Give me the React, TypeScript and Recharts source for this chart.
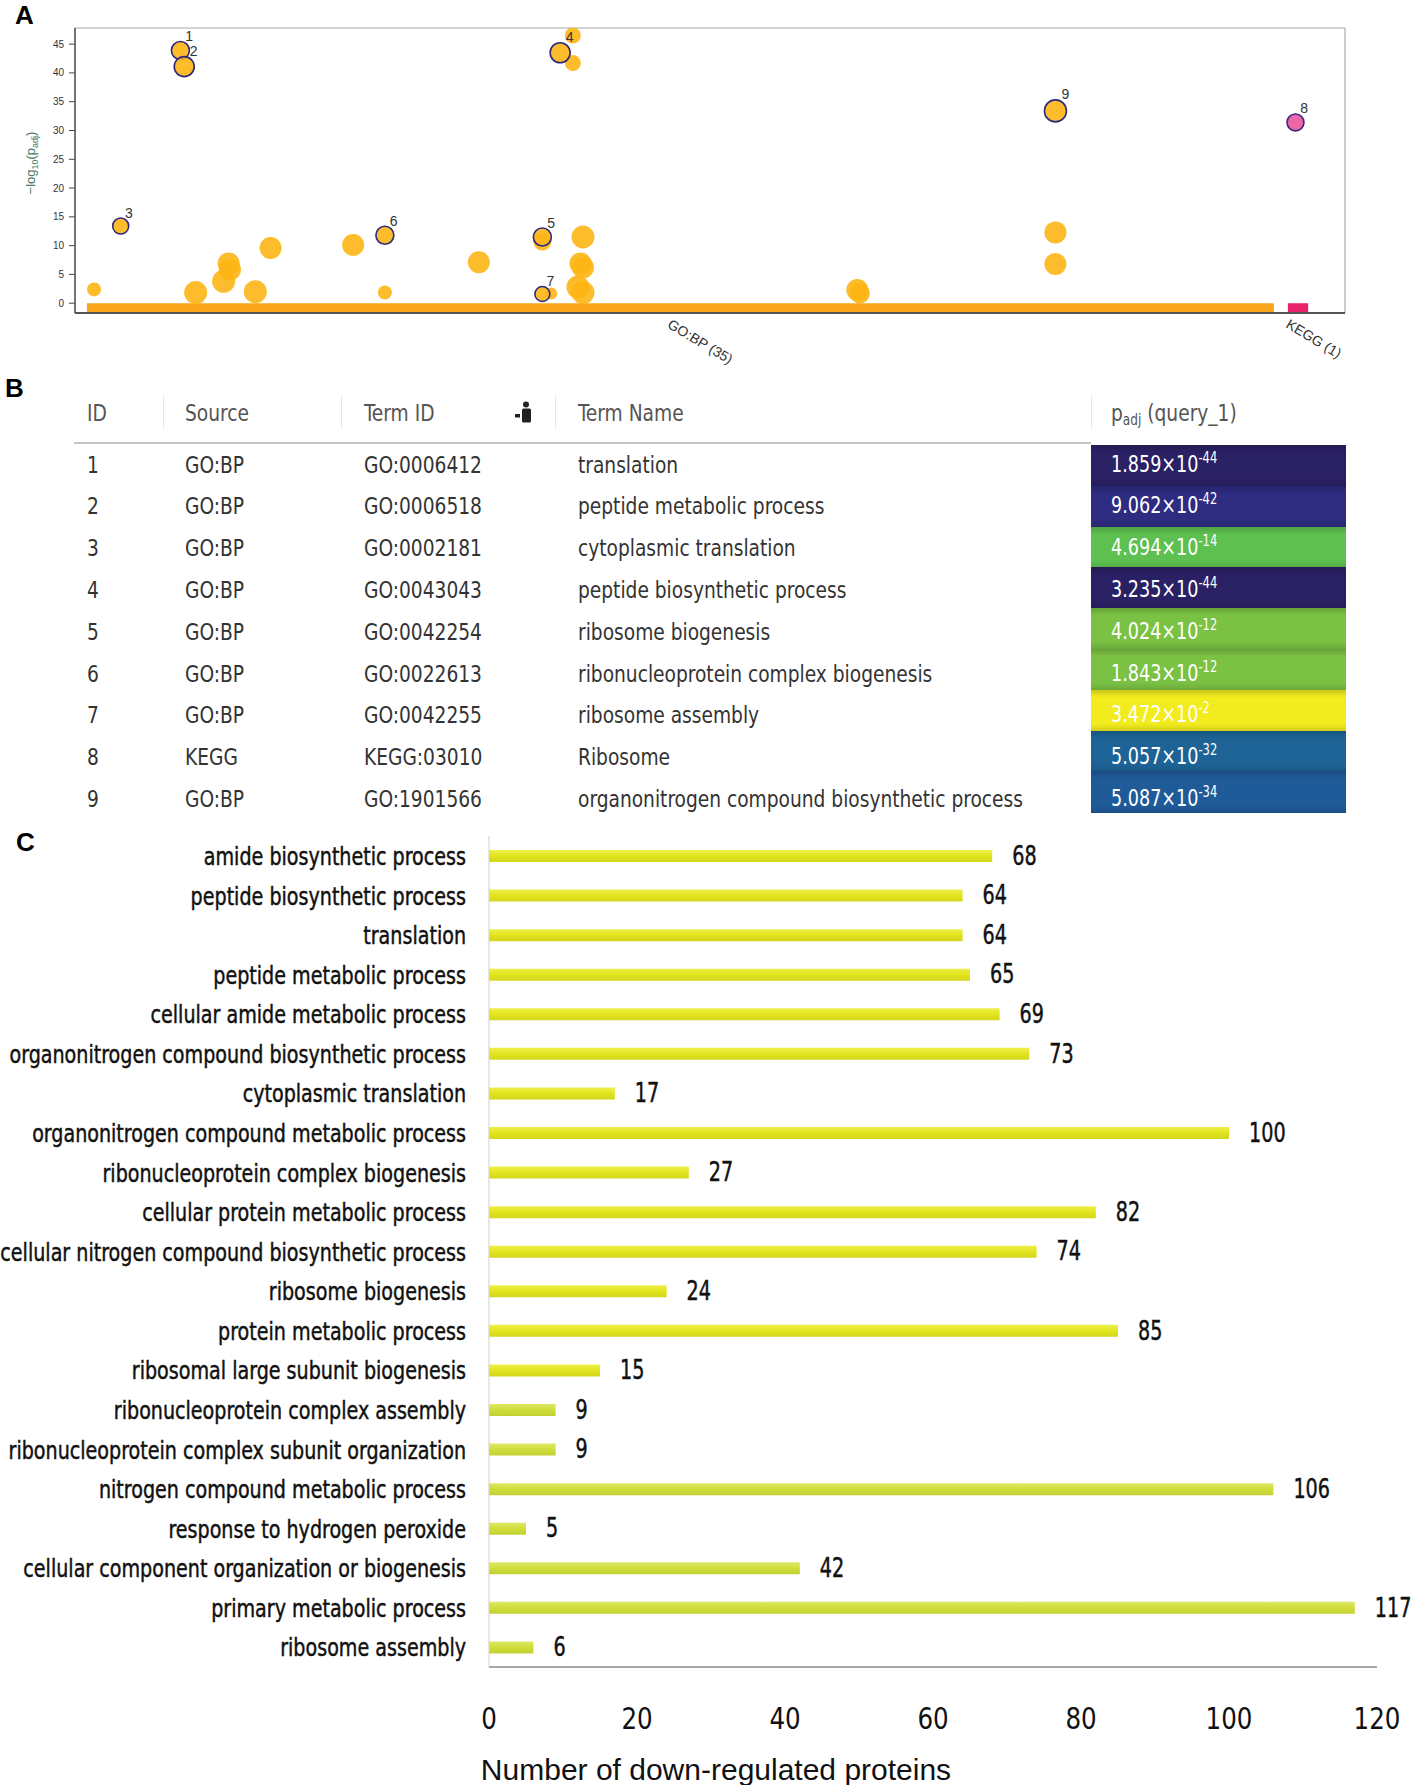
import React from "react";
import {
  ScatterChart,
  Scatter,
  XAxis,
  YAxis,
  ZAxis,
  ReferenceArea,
  ReferenceLine,
  BarChart,
  Bar,
  Cell,
  LabelList,
} from "recharts";

const NARROW = "'Liberation Sans Narrow', 'DejaVu Sans Condensed', 'Liberation Sans', sans-serif";
const ARIAL = "'Liberation Sans', Arial, sans-serif";

// ---- panel A: g:Profiler manhattan plot ----
const otherTerms = [
  { x: 15, y: 2.4, size: 49 },
  { x: 95, y: 1.85, size: 132 },
  { x: 117, y: 3.8, size: 132 },
  { x: 121, y: 6.9, size: 121 },
  { x: 122, y: 5.8, size: 121 },
  { x: 142, y: 2.0, size: 132 },
  { x: 154, y: 9.6, size: 121 },
  { x: 219, y: 10.1, size: 121 },
  { x: 244, y: 1.85, size: 49 },
  { x: 318, y: 7.1, size: 121 },
  { x: 368, y: 10.7, size: 81 },
  { x: 375, y: 1.7, size: 36 },
  { x: 392, y: 46.5, size: 64 },
  { x: 392, y: 41.7, size: 64 },
  { x: 400, y: 11.5, size: 132 },
  { x: 398, y: 6.9, size: 121 },
  { x: 400, y: 6.2, size: 121 },
  { x: 396, y: 2.8, size: 132 },
  { x: 400, y: 1.85, size: 132 },
  { x: 616, y: 2.3, size: 121 },
  { x: 618, y: 1.7, size: 100 },
  { x: 772, y: 12.3, size: 121 },
  { x: 772, y: 6.8, size: 121 },
];

const highlightTerms = [
  { id: 3, x: 36, y: 13.4, size: 64 },
  { id: 1, x: 83, y: 43.9, size: 81 },
  { id: 2, x: 86, y: 41.1, size: 100 },
  { id: 6, x: 244, y: 11.8, size: 81 },
  { id: 5, x: 368, y: 11.5, size: 81 },
  { id: 7, x: 368, y: 1.6, size: 56 },
  { id: 4, x: 382, y: 43.5, size: 100 },
  { id: 9, x: 772, y: 33.4, size: 121 },
];

const keggTerms = [{ id: 8, x: 961, y: 31.4, size: 72 }];

const sourceTicks = [470, 957];
const sourceLabels = ["GO:BP (35)", "KEGG (1)"];
const goBpSpan = [9.4, 944];
const keggSpan = [955, 971];
const yTicksA = [0, 5, 10, 15, 20, 25, 30, 35, 40, 45];

// ---- panel B: table ----
const termIndex = [1, 2, 3, 4, 5, 6, 7, 8, 9];
const termSources = ["GO:BP", "GO:BP", "GO:BP", "GO:BP", "GO:BP", "GO:BP", "GO:BP", "KEGG", "GO:BP"];
const termIds = [
  "GO:0006412",
  "GO:0006518",
  "GO:0002181",
  "GO:0043043",
  "GO:0042254",
  "GO:0022613",
  "GO:0042255",
  "KEGG:03010",
  "GO:1901566",
];
const termNames = [
  "translation",
  "peptide metabolic process",
  "cytoplasmic translation",
  "peptide biosynthetic process",
  "ribosome biogenesis",
  "ribonucleoprotein complex biogenesis",
  "ribosome assembly",
  "Ribosome",
  "organonitrogen compound biosynthetic process",
];
const padjMantissa = ["1.859", "9.062", "4.694", "3.235", "4.024", "1.843", "3.472", "5.057", "5.087"];
const padjExponent = [-44, -42, -14, -44, -12, -12, -2, -32, -34];

// ---- panel C: bar chart ----
const categories = [
  "amide biosynthetic process",
  "peptide biosynthetic process",
  "translation",
  "peptide metabolic process",
  "cellular amide metabolic process",
  "organonitrogen compound biosynthetic process",
  "cytoplasmic translation",
  "organonitrogen compound metabolic process",
  "ribonucleoprotein complex biogenesis",
  "cellular protein metabolic process",
  "cellular nitrogen compound biosynthetic process",
  "ribosome biogenesis",
  "protein metabolic process",
  "ribosomal large subunit biogenesis",
  "ribonucleoprotein complex assembly",
  "ribonucleoprotein complex subunit organization",
  "nitrogen compound metabolic process",
  "response to hydrogen peroxide",
  "cellular component organization or biogenesis",
  "primary metabolic process",
  "ribosome assembly",
];
const downCounts = [68, 64, 64, 65, 69, 73, 17, 100, 27, 82, 74, 24, 85, 15, 9, 9, 106, 5, 42, 117, 6];
const xTicksC = [0, 20, 40, 60, 80, 100, 120];

const barData = categories.map((name, i) => ({ name, value: downCounts[i] }));

function padjColor(exp: number) {
  if (exp <= -43) return "#2a2064";
  if (exp <= -40) return "#2e2c80";
  if (exp <= -33) return "#1f5a99";
  if (exp <= -25) return "#1d6396";
  if (exp <= -13) return "#5dc050";
  if (exp <= -5) return "#7bc143";
  return "#f2eb1e";
}

function Bubble(props: any) {
  const { cx, cy, payload, fill, stroke, labelled } = props;
  if (cx == null || cy == null) return null;
  const r = props.width ? props.width / 2 : Math.sqrt((props.size || 64) / Math.PI);
  return (
    <g>
      <circle
        cx={cx}
        cy={cy}
        r={r}
        fill={fill}
        fillOpacity={0.9}
        stroke={stroke || "none"}
        strokeWidth={stroke ? 1.6 : 0}
      />
      {labelled && (
        <text x={cx + r * 0.55} y={cy - r - 0.5} fontSize={14} fontFamily={ARIAL} fill="#333">
          {payload.id}
        </text>
      )}
    </g>
  );
}

function SourceTick(props: any) {
  const { x, payload, index } = props;
  const y = 318;
  return (
    <text
      x={x}
      y={y}
      transform={`rotate(31 ${x} ${y})`}
      fontSize={14}
      fontFamily={ARIAL}
      fill="#333"
      dominantBaseline="hanging"
    >
      {sourceLabels[index] ?? payload.value}
    </text>
  );
}

function YLabelA(props: any) {
  const vb = props.viewBox || { x: 0, y: 28 };
  const x = vb.x + 35;
  const y = vb.y + 135;
  return (
    <text
      x={x}
      y={y}
      transform={`rotate(-90 ${x} ${y})`}
      textAnchor="middle"
      fontSize={13}
      fontFamily={ARIAL}
      fill="#4a7a66"
    >
      <tspan>−log</tspan>
      <tspan fontSize={9} dy={3}>10</tspan>
      <tspan dy={-3}>(p</tspan>
      <tspan fontSize={9} dy={3}>adj</tspan>
      <tspan dy={-3}>)</tspan>
    </text>
  );
}

function PanelA() {
  return (
    <ScatterChart width={1417} height={385} margin={{ top: 28, right: 72, bottom: 25, left: 0 }}>
      <XAxis
        type="number"
        dataKey="x"
        domain={[0, 1000]}
        ticks={sourceTicks}
        tick={<SourceTick />}
        tickLine={false}
        axisLine={{ stroke: "#555", strokeWidth: 2 }}
        height={47}
        allowDataOverflow
      />
      <YAxis
        type="number"
        dataKey="y"
        domain={[-1.7, 47.8]}
        ticks={yTicksA}
        width={75}
        tickSize={6}
        tickMargin={5}
        tick={{ fontSize: 10, fontFamily: ARIAL, fill: "#333" }}
        tickLine={{ stroke: "#444" }}
        axisLine={{ stroke: "#444", strokeWidth: 1.5 }}
        allowDataOverflow
        label={<YLabelA />}
      />
      <ZAxis type="number" dataKey="size" domain={[0, 200]} range={[0, 200 * Math.PI]} />
      <ReferenceLine y={47.8} stroke="#a8a8a8" strokeWidth={1.2} />
      <ReferenceLine x={1000} stroke="#a8a8a8" strokeWidth={1.2} />
      <ReferenceArea
        x1={goBpSpan[0]}
        x2={goBpSpan[1]}
        y1={-1.7}
        y2={0}
        fill="#f9a51b"
        fillOpacity={1}
        stroke="none"
      />
      <ReferenceArea
        x1={keggSpan[0]}
        x2={keggSpan[1]}
        y1={-1.7}
        y2={0}
        fill="#e8226a"
        fillOpacity={1}
        stroke="none"
      />
      <Scatter
        data={otherTerms}
        isAnimationActive={false}
        shape={(p: any) => <Bubble {...p} fill="#fdb514" />}
      />
      <Scatter
        data={highlightTerms}
        isAnimationActive={false}
        shape={(p: any) => <Bubble {...p} fill="#fdb514" stroke="#2e2a80" labelled />}
      />
      <Scatter
        data={keggTerms}
        isAnimationActive={false}
        shape={(p: any) => <Bubble {...p} fill="#ea579a" stroke="#3a2a80" labelled />}
      />
    </ScatterChart>
  );
}

function SortIcon() {
  return (
    <svg width={20} height={24} style={{ position: "absolute", left: 514, top: 401 }}>
      <circle cx={12} cy={3.5} r={3} fill="#222" />
      <rect x={8} y={7.5} width={9} height={14} rx={1.5} fill="#222" />
      <rect x={1} y={13} width={5} height={3.5} fill="#222" />
    </svg>
  );
}

function Squeeze({ children, k = 0.9 }: { children: React.ReactNode; k?: number }) {
  return (
    <span style={{ display: "inline-block", transform: `scaleX(${k})`, transformOrigin: "left center" }}>
      {children}
    </span>
  );
}

function PanelB() {
  const textTop = 444.6;
  const textH = 41.8;
  const cellTop = 445;
  const cellH = 40.8;
  const cell = (left: number, top: number, h: number, content: React.ReactNode, color = "#333", k = 0.9) => (
    <div
      style={{
        position: "absolute",
        left,
        top,
        height: h,
        lineHeight: `${h}px`,
        fontSize: 23,
        fontFamily: NARROW,
        color,
        whiteSpace: "nowrap",
      }}
    >
      <Squeeze k={k}>{content}</Squeeze>
    </div>
  );
  return (
    <>
      {cell(87, 396, 34, "ID", "#555")}
      {cell(185, 396, 34, "Source", "#555")}
      {cell(364, 396, 34, "Term ID", "#555")}
      {cell(578, 396, 34, "Term Name", "#555")}
      {cell(
        1111,
        396,
        34,
        <span>
          p<sub style={{ fontSize: 15, verticalAlign: "-4px", lineHeight: 0 }}>adj</sub> (query_1)
        </span>,
        "#555"
      )}
      <SortIcon />
      {[163, 341, 555, 1091].map((x) => (
        <div
          key={x}
          style={{ position: "absolute", left: x, top: 395, width: 1, height: 34, background: "#e6e6e6" }}
        />
      ))}
      <div style={{ position: "absolute", left: 74, top: 442, width: 1017, height: 2, background: "#c4c4c4" }} />
      {termIndex.map((id, i) => {
        const base = padjColor(padjExponent[i]);
        return (
          <div
            key={`bg${id}`}
            style={{
              position: "absolute",
              left: 1091,
              top: cellTop + i * cellH,
              width: 255,
              height: cellH + 0.5,
              background: `linear-gradient(to bottom, rgba(0,0,0,0.16) 0%, rgba(0,0,0,0) 18%, rgba(0,0,0,0) 82%, rgba(0,0,0,0.12) 100%), ${base}`,
            }}
          />
        );
      })}
      {termIndex.map((id, i) => {
        const top = textTop + i * textH;
        return (
          <React.Fragment key={id}>
            {cell(87, top, textH, id)}
            {cell(185, top, textH, termSources[i])}
            {cell(364, top, textH, termIds[i])}
            {cell(578, top, textH, termNames[i])}
            {cell(
              1111,
              top - 1,
              textH,
              <span>
                {padjMantissa[i]}×10
                <sup style={{ fontSize: 15, verticalAlign: "9px", lineHeight: 0 }}>{padjExponent[i]}</sup>
              </span>,
              "#ffffff",
              0.85
            )}
          </React.Fragment>
        );
      })}
    </>
  );
}

function CatTick(props: any) {
  const { x, y, payload } = props;
  return (
    <text
      transform={`translate(${x},${y}) scale(0.85,1)`}
      textAnchor="end"
      dominantBaseline="central"
      fontSize={25}
      fontFamily={NARROW}
      fill="#111"
      stroke="#111"
      strokeWidth={0.45}
    >
      {payload.value}
    </text>
  );
}

function CountTick(props: any) {
  const { x, y, payload } = props;
  return (
    <text
      transform={`translate(${x},${y + 43}) scale(0.88,1)`}
      textAnchor="middle"
      dominantBaseline="central"
      fontSize={31}
      fontFamily={NARROW}
      fill="#111"
    >
      {payload.value}
    </text>
  );
}

function XTitleC(props: any) {
  const vb = props.viewBox || { x: 489, y: 1667 };
  return (
    <text x={vb.x + 227} y={vb.y + 113} textAnchor="middle" fontSize={30} fontFamily={ARIAL} fill="#111">
      Number of down-regulated proteins
    </text>
  );
}

function PanelC() {
  return (
    <BarChart
      width={1417}
      height={985}
      layout="vertical"
      data={barData}
      margin={{ top: 36, right: 40, bottom: 0, left: 0 }}
    >
      <defs>
        <linearGradient id="barYellow" x1="0" y1="0" x2="0" y2="1">
          <stop offset="0%" stopColor="#eef04a" />
          <stop offset="50%" stopColor="#e2e41d" />
          <stop offset="100%" stopColor="#d3d61c" />
        </linearGradient>
        <linearGradient id="barGreen" x1="0" y1="0" x2="0" y2="1">
          <stop offset="0%" stopColor="#dfe866" />
          <stop offset="50%" stopColor="#cfdd3b" />
          <stop offset="100%" stopColor="#c2d033" />
        </linearGradient>
      </defs>
      <XAxis
        type="number"
        domain={[0, 120]}
        ticks={xTicksC}
        height={118}
        tickLine={false}
        axisLine={{ stroke: "#8a8a8a", strokeWidth: 1.5 }}
        tick={<CountTick />}
        label={<XTitleC />}
      />
      <YAxis
        type="category"
        dataKey="name"
        width={489}
        interval={0}
        tickLine={false}
        tickSize={6}
        tickMargin={17}
        axisLine={{ stroke: "#cfcfcf" }}
        tick={<CatTick />}
      />
      <Bar dataKey="value" barSize={12} isAnimationActive={false}>
        {barData.map((d, i) => (
          <Cell key={d.name} fill={i < 14 ? "url(#barYellow)" : "url(#barGreen)"} />
        ))}
        <LabelList
          dataKey="value"
          content={(p: any) => (
            <text
              transform={`translate(${p.x + p.width + 20},${p.y + p.height / 2}) scale(0.82,1)`}
              dominantBaseline="central"
              fontSize={26}
              fontFamily={NARROW}
              fill="#111"
              stroke="#111"
              strokeWidth={0.45}
            >
              {p.value}
            </text>
          )}
        />
      </Bar>
    </BarChart>
  );
}

function PanelLetter({ text, left, top }: { text: string; left: number; top: number }) {
  return (
    <div
      style={{
        position: "absolute",
        left,
        top,
        fontSize: 26,
        lineHeight: "26px",
        fontWeight: 700,
        fontFamily: ARIAL,
        color: "#000",
      }}
    >
      {text}
    </div>
  );
}

export default function App() {
  return (
    <div
      style={{
        position: "absolute",
        left: 0,
        top: 0,
        width: 1417,
        height: 1785,
        background: "#fff",
        overflow: "hidden",
      }}
    >
      <div style={{ position: "absolute", left: 0, top: 0 }}>
        <PanelA />
      </div>
      <PanelB />
      <div style={{ position: "absolute", left: 0, top: 800 }}>
        <PanelC />
      </div>
      <PanelLetter text="A" left={15} top={2} />
      <PanelLetter text="B" left={5} top={375} />
      <PanelLetter text="C" left={16} top={829} />
    </div>
  );
}
